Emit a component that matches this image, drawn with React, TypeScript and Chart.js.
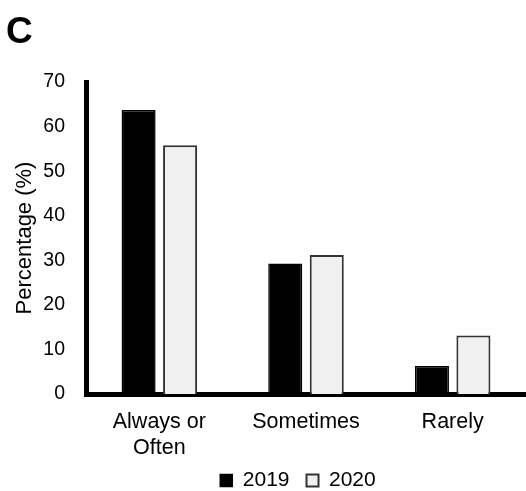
import React, { useEffect, useRef } from "react";
import { Chart, registerables } from "chart.js";

Chart.register(...registerables);

const categories: (string | string[])[] = [["Always or", "Often"], "Sometimes", "Rarely"];
const series2019: number[] = [63.7, 29.3, 6.3];
const series2020: number[] = [55.8, 31.2, 13.1];
const yTicks = { min: 0, max: 70, step: 10 };
const panelLabel = "C";
const yTitle = "Percentage (%)";

const FONT = "'Liberation Sans', Arial, Helvetica, sans-serif";

const legendShift = {
  id: "legendShift",
  afterLayout(chart: any) {
    const l = chart.legend;
    if (l) {
      l.left -= 8;
      l.right -= 8;
      l.top -= 7;
      l.bottom -= 7;
    }
  },
};

export default function App() {
  const ref = useRef<HTMLCanvasElement | null>(null);

  useEffect(() => {
    if (!ref.current) return;
    const chart = new Chart(ref.current, {
      type: "bar",
      data: {
        labels: categories,
        datasets: [
          {
            label: "2019",
            data: series2019,
            backgroundColor: "#000000",
            borderColor: "#000000",
            borderWidth: 1.5,
            categoryPercentage: 0.566,
            barPercentage: 0.82,
          },
          {
            label: "2020",
            data: series2020,
            backgroundColor: "#f0f0f0",
            borderColor: "#333333",
            borderWidth: 2,
            categoryPercentage: 0.566,
            barPercentage: 0.82,
          },
        ],
      },
      plugins: [legendShift],
      options: {
        responsive: false,
        animation: false,
        layout: { padding: { top: 82, left: 0, right: 0, bottom: -17 } },
        plugins: {
          tooltip: { enabled: false },
          title: { display: false },
          legend: {
            display: true,
            position: "bottom",
            fullSize: false,
            labels: {
              boxWidth: 12,
              boxHeight: 12,
              padding: 17,
              color: "#000000",
              font: { family: FONT, size: 21 },
            },
          },
        },
        scales: {
          x: {
            grid: { display: false, drawTicks: false },
            border: { display: true, color: "#000000", width: 5 },
            ticks: {
              color: "#000000",
              padding: 15.5,
              maxRotation: 0,
              autoSkip: false,
              font: { family: FONT, size: 21.5, lineHeight: 1.2 },
            },
            afterFit: (scale: any) => {
              scale.height = 66;
            },
          },
          y: {
            min: yTicks.min,
            max: yTicks.max,
            grid: { display: false, drawTicks: false },
            border: { display: true, color: "#000000", width: 5 },
            ticks: {
              stepSize: yTicks.step,
              color: "#000000",
              padding: 21,
              font: { family: FONT, size: 19.5 },
            },
            title: {
              display: true,
              text: yTitle,
              color: "#000000",
              padding: { top: 12, bottom: 0 },
              font: { family: FONT, size: 22 },
            },
            afterFit: (scale: any) => {
              scale.width = 86;
            },
          },
        },
      },
    });
    return () => chart.destroy();
  }, []);

  return (
    <div style={{ position: "absolute", left: 0, top: 0, width: 526, height: 491, background: "#ffffff" }}>
      <canvas ref={ref} width={526} height={491} style={{ display: "block" }} />
      <div
        style={{
          position: "absolute",
          left: 6,
          top: 12,
          fontFamily: FONT,
          fontWeight: "bold",
          fontSize: 37,
          lineHeight: "37px",
          color: "#000000",
        }}
      >
        {panelLabel}
      </div>
    </div>
  );
}
